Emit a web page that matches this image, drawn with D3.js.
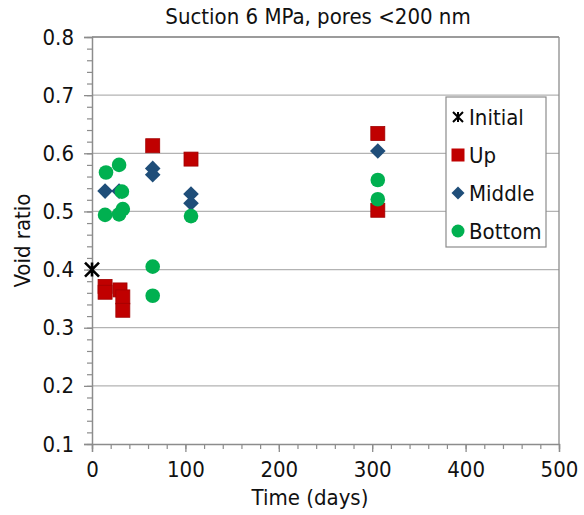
<!DOCTYPE html>
<html>
<head>
<meta charset="utf-8">
<script src="https://cdn.jsdelivr.net/npm/d3@7"></script>
<style>
  html, body { margin: 0; padding: 0; background: #fff; }
  svg { display: block; font-family: "DejaVu Sans Condensed", "DejaVu Sans", sans-serif; }
</style>
</head>
<body>
<svg id="chart" width="584" height="515"></svg>
<script>
// Void ratio measurements by layer, suction 6 MPa
const initialDays = [0];
const initialRatio = [0.40];

const upDays  = [14, 14, 30, 33, 33, 65, 106, 306, 306];
const upRatio = [0.371, 0.361, 0.365, 0.353, 0.330, 0.613, 0.590, 0.634, 0.502];

const middleDays  = [14, 29, 65, 65, 106, 106, 306];
const middleRatio = [0.535, 0.535, 0.574, 0.563, 0.530, 0.514, 0.604];

const bottomDays  = [15, 29, 32, 14, 29, 33, 65, 65, 106, 306, 306];
const bottomRatio = [0.567, 0.580, 0.534, 0.494, 0.495, 0.504, 0.405, 0.355, 0.492, 0.554, 0.521];

const xTicks = [0, 100, 200, 300, 400, 500];
const yTicks = [0.1, 0.2, 0.3, 0.4, 0.5, 0.6, 0.7, 0.8];

const seriesNames = ["Initial", "Up", "Middle", "Bottom"];
const titleText = "Suction 6 MPa, pores <200 nm";
const xTitle = "Time (days)";
const yTitle = "Void ratio";

const zip = (xs, ys) => xs.map((d, i) => ({ t: d, v: ys[i] }));

const margin = { left: 92, right: 25, top: 37, bottom: 71 };
const W = 584, H = 515;
const svg = d3.select("#chart");
const FONT = "DejaVu Sans Condensed, DejaVu Sans, sans-serif";
const FS = 22;
const ink = "#111";

const x = d3.scaleLinear().domain([0, 500]).range([margin.left, W - margin.right]);
const y = d3.scaleLinear().domain([0.1, 0.8]).range([H - margin.bottom, margin.top]);

const axisGray = "#8c8c8c";
const gridGray = "#b3b3b3";
const red = "#C00000", blue = "#1F4E79", green = "#00B050";

// horizontal gridlines
svg.append("g")
  .selectAll("line")
  .data(yTicks.slice(1))
  .join("line")
  .attr("x1", x(0)).attr("x2", x(500))
  .attr("y1", d => y(d)).attr("y2", d => y(d))
  .attr("stroke", gridGray).attr("stroke-width", 1.3);

// plot-area border on the right
svg.append("line")
  .attr("x1", x(500)).attr("x2", x(500))
  .attr("y1", y(0.8)).attr("y2", y(0.1))
  .attr("stroke", axisGray).attr("stroke-width", 1.3);

// y axis: minor then major ticks
const yMinor = d3.range(0.1, 0.8001, 0.02);
svg.append("g")
  .attr("transform", `translate(${x(0)},0)`)
  .call(d3.axisLeft(y).tickValues(yMinor).tickSize(5).tickFormat(""))
  .call(g => g.selectAll("path,line").attr("stroke", axisGray).attr("stroke-width", 1.2));
svg.append("g")
  .attr("transform", `translate(${x(0)},0)`)
  .call(d3.axisLeft(y).tickValues(yTicks).tickSize(8).tickPadding(10).tickFormat(d3.format(".1f")))
  .call(g => g.selectAll("path,line").attr("stroke", axisGray).attr("stroke-width", 1.3))
  .call(g => g.selectAll("text").attr("font-size", FS).attr("fill", ink).attr("font-family", FONT));

// x axis
const xMinor = d3.range(0, 501, 20);
svg.append("g")
  .attr("transform", `translate(0,${y(0.1)})`)
  .call(d3.axisBottom(x).tickValues(xMinor).tickSize(5).tickFormat(""))
  .call(g => g.selectAll("path,line").attr("stroke", axisGray).attr("stroke-width", 1.2));
svg.append("g")
  .attr("transform", `translate(0,${y(0.1)})`)
  .call(d3.axisBottom(x).tickValues(xTicks).tickSize(8).tickPadding(9))
  .call(g => g.selectAll("path,line").attr("stroke", axisGray).attr("stroke-width", 1.3))
  .call(g => g.selectAll("text").attr("font-size", FS).attr("fill", ink).attr("font-family", FONT));

// top border of plot area
svg.append("line")
  .attr("x1", x(0)).attr("x2", x(500))
  .attr("y1", y(0.8)).attr("y2", y(0.8))
  .attr("stroke", axisGray).attr("stroke-width", 1.3);

// titles
svg.append("text")
  .attr("x", 318).attr("y", 24)
  .attr("text-anchor", "middle").attr("font-size", FS).attr("fill", ink)
  .text(titleText);
svg.append("text")
  .attr("x", 310).attr("y", 505)
  .attr("text-anchor", "middle").attr("font-size", FS).attr("fill", ink)
  .text(xTitle);
svg.append("text")
  .attr("transform", `translate(30,${(y(0.1) + y(0.8)) / 2}) rotate(-90)`)
  .attr("text-anchor", "middle").attr("font-size", FS).attr("fill", ink)
  .text(yTitle);

// marker drawers
function starPath(s) {
  const h = s / 2;
  return `M${-h},${-h}L${h},${h}M${-h},${h}L${h},${-h}M0,${-h}L0,${h}`;
}
const sqSize = 14, circR = 7.3, diaHalf = 7.8;

const plot = svg.append("g");

plot.selectAll(".sq")
  .data(zip(upDays, upRatio))
  .join("rect")
  .attr("x", d => x(d.t) - sqSize / 2).attr("y", d => y(d.v) - sqSize / 2)
  .attr("width", sqSize).attr("height", sqSize)
  .attr("fill", red).attr("stroke", "#a00000").attr("stroke-width", 0.8);

plot.selectAll(".dia")
  .data(zip(middleDays, middleRatio))
  .join("path")
  .attr("transform", d => `translate(${x(d.t)},${y(d.v)})`)
  .attr("d", `M0,${-diaHalf}L${diaHalf},0L0,${diaHalf}L${-diaHalf},0Z`)
  .attr("fill", blue);

plot.selectAll(".circ")
  .data(zip(bottomDays, bottomRatio))
  .join("circle")
  .attr("cx", d => x(d.t)).attr("cy", d => y(d.v)).attr("r", circR)
  .attr("fill", green);

plot.selectAll(".star")
  .data(zip(initialDays, initialRatio))
  .join("path")
  .attr("transform", d => `translate(${x(d.t)},${y(d.v)})`)
  .attr("d", starPath(14))
  .attr("stroke", "#000").attr("stroke-width", 2.6).attr("fill", "none");

// legend
const lg = svg.append("g").attr("transform", "translate(446,97)");
lg.append("rect").attr("width", 100).attr("height", 150)
  .attr("fill", "#fff").attr("stroke", axisGray).attr("stroke-width", 1.2);
const rowY = i => 20 + i * 38;
const mx = 12;
seriesNames.forEach((name, i) => {
  const cy = rowY(i);
  if (i === 0) {
    lg.append("path").attr("transform", `translate(${mx},${cy})`)
      .attr("d", starPath(10)).attr("stroke", "#000").attr("stroke-width", 2).attr("fill", "none");
  } else if (i === 1) {
    lg.append("rect").attr("x", mx - 6.5).attr("y", cy - 6.5).attr("width", 13).attr("height", 13)
      .attr("fill", red);
  } else if (i === 2) {
    const h = 6.5;
    lg.append("path").attr("transform", `translate(${mx},${cy})`)
      .attr("d", `M0,${-h}L${h},0L0,${h}L${-h},0Z`).attr("fill", blue);
  } else {
    lg.append("circle").attr("cx", mx).attr("cy", cy).attr("r", 6.5).attr("fill", green);
  }
  lg.append("text").attr("x", 23).attr("y", cy).attr("dy", "0.36em")
    .attr("font-size", FS).attr("fill", ink).text(name);
});
</script>
</body>
</html>
